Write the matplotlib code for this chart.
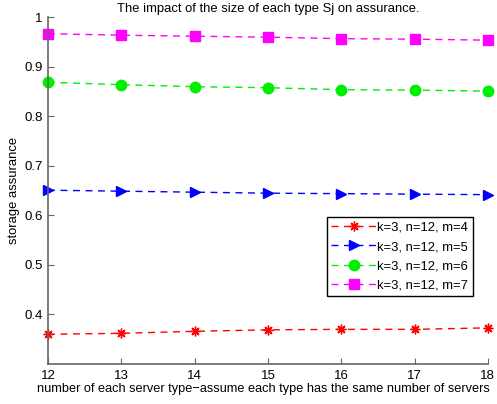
import matplotlib
matplotlib.use("Agg")
import matplotlib.pyplot as plt

plt.rcParams['font.family'] = ['Liberation Sans', 'DejaVu Sans']

# data
SERVERS = [12, 13, 14, 15, 16, 17, 18]
M4 = [0.360, 0.362, 0.366, 0.369, 0.370, 0.370, 0.373]
M5 = [0.651, 0.649, 0.647, 0.645, 0.644, 0.643, 0.642]
M6 = [0.869, 0.864, 0.860, 0.858, 0.854, 0.853, 0.851]
M7 = [0.967, 0.964, 0.962, 0.960, 0.957, 0.956, 0.954]

NAMES = ['k=3, n=12, m=4', 'k=3, n=12, m=5', 'k=3, n=12, m=6', 'k=3, n=12, m=7']
COLORS = ['#ff0000', '#0000ff', '#00ee00', '#ff00ff']
MARKERS = [(8, 2, 0), '>', 'o', 's']
SIZES = [7, 7.5, 7.5, 6.5]

TITLE = "The impact of the size of each type Sj on assurance."
X_LABEL = "number of each server type\u2212assume each type has the same number of servers"
Y_LABEL = "storage assurance"

def main():
    fig = plt.figure(figsize=(4.97, 4.04), dpi=100)
    ax = fig.add_axes([0.0966, 0.099, 0.885, 0.858])

    for ys, name, color, mk, ms in zip([M4, M5, M6, M7], NAMES, COLORS, MARKERS, SIZES):
        ax.plot(SERVERS, ys, linestyle='--', marker=mk, color=color, label=name,
                linewidth=1.0, markersize=ms, markeredgewidth=1.0, dashes=(5, 4),
                clip_on=False)

    ax.set_xlim(12, 18)
    ax.set_ylim(0.3, 1.0)
    ax.set_yticks([0.4, 0.5, 0.6, 0.7, 0.8, 0.9, 1.0])
    ax.set_yticklabels(['0.4', '0.5', '0.6', '0.7', '0.8', '0.9', '1'])
    ax.set_xticks(SERVERS)

    for s in ['top', 'right']:
        ax.spines[s].set_visible(False)
    for s in ['left', 'bottom']:
        ax.spines[s].set_color('#666666')
        ax.spines[s].set_linewidth(1.2)
    ax.tick_params(direction='in', length=4, color='#666666', labelsize=9.5, pad=4)

    ax.set_title(TITLE, fontsize=9.4, pad=4)
    ax.set_xlabel(X_LABEL, fontsize=9.2, labelpad=1)
    ax.xaxis.set_label_coords(0.49, -0.055)
    ax.set_ylabel(Y_LABEL, fontsize=9.4, labelpad=3)

    leg = ax.legend(loc='upper left', bbox_to_anchor=(0.634, 0.424), fontsize=9.4,
                    fancybox=False, framealpha=1, edgecolor='black',
                    handlelength=3.4, handletextpad=0.1, borderpad=0.35,
                    labelspacing=0.55, borderaxespad=0)
    leg.get_frame().set_linewidth(1.0)
    leg.set_zorder(5)

    fig.savefig("out.png", dpi=100)
    plt.close(fig)

main()
